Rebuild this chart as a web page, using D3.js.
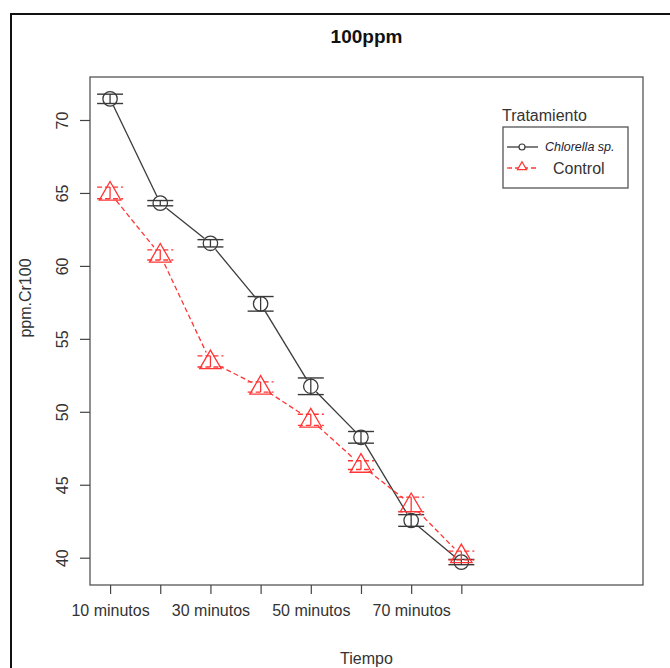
<!DOCTYPE html>
<html>
<head>
<meta charset="utf-8">
<script src="https://cdn.jsdelivr.net/npm/d3@7"></script>
<style>
  body { margin: 0; background: #fff; }
  svg { display: block; font-family: "Liberation Sans", Arial, sans-serif; }
</style>
</head>
<body>
<svg id="chart" width="670" height="668"></svg>
<script>
// datos
const categorias = ["10 minutos", "20 minutos", "30 minutos", "40 minutos",
                    "50 minutos", "60 minutos", "70 minutos", "80 minutos"]
const etiquetasX = ["10 minutos", "30 minutos", "50 minutos", "70 minutos"]
const ticksY = [40, 45, 50, 55, 60, 65, 70]

const chlorella    = [71.45, 64.3, 61.55, 57.4, 51.75, 48.25, 42.55, 39.7]
const chlorellaErr = [0.32, 0.18, 0.25, 0.5, 0.57, 0.4, 0.4, 0.18]
const control      = [65.0, 60.75, 53.45, 51.7, 49.45, 46.35, 43.65, 40.15]
const controlErr   = [0.4, 0.35, 0.38, 0.35, 0.38, 0.3, 0.5, 0.3]

const svg = d3.select("#chart")

// marco exterior de la figura
svg.append("path")
    .attr("d", "M11,670 L11,14 L672,14")
    .attr("fill", "none")
    .attr("stroke", "#111")
    .attr("stroke-width", 2)

const box = { left: 90, right: 643, top: 77, bottom: 585 }

const x = d3.scaleLinear().domain([0.6, 11.62]).range([box.left, box.right])
const y = d3.scaleLinear().domain([40, 70]).range([557.7, 120])

// caja del grafico
svg.append("rect")
    .attr("x", box.left).attr("y", box.top)
    .attr("width", box.right - box.left).attr("height", box.bottom - box.top)
    .attr("fill", "none").attr("stroke", "#555").attr("stroke-width", 1.3)

// eje Y (etiquetas giradas, como en R)
const ejeY = svg.append("g")
    .attr("transform", `translate(${box.left},0)`)
    .call(d3.axisLeft(y).tickValues(ticksY).tickSize(10).tickFormat(d3.format("d")))
ejeY.select(".domain").remove()
ejeY.selectAll("line").attr("stroke", "#444").attr("stroke-width", 1.2)
ejeY.selectAll("text")
    .attr("x", 0).attr("y", 0).attr("dy", 0)
    .attr("transform", "translate(-22,0) rotate(-90)")
    .attr("text-anchor", "middle")
    .attr("font-size", 16)
    .attr("fill", "#333")
    .attr("font-family", "Liberation Sans, Arial, sans-serif")

// eje X
const idx = d3.range(1, categorias.length + 1)
const ejeX = svg.append("g")
    .attr("transform", `translate(0,${box.bottom})`)
    .call(d3.axisBottom(x).tickValues(idx).tickSize(9)
        .tickFormat(i => etiquetasX.includes(categorias[i - 1]) ? categorias[i - 1] : ""))
ejeX.select(".domain").remove()
ejeX.selectAll("line").attr("stroke", "#444").attr("stroke-width", 1.2)
ejeX.selectAll("text")
    .attr("y", 31).attr("dy", 0)
    .attr("font-size", 16)
    .attr("fill", "#333")
    .attr("font-family", "Liberation Sans, Arial, sans-serif")

// titulos
svg.append("text")
    .attr("x", (box.left + box.right) / 2).attr("y", 43)
    .attr("text-anchor", "middle")
    .attr("font-size", 19).attr("font-weight", "bold").attr("fill", "#111")
    .text("100ppm")
svg.append("text")
    .attr("x", (box.left + box.right) / 2).attr("y", 664)
    .attr("text-anchor", "middle")
    .attr("font-size", 16).attr("fill", "#333")
    .text("Tiempo")
svg.append("text")
    .attr("transform", "translate(31,298) rotate(-90)")
    .attr("text-anchor", "middle")
    .attr("font-size", 16).attr("fill", "#333")
    .text("ppm.Cr100")

const triangulo = d3.symbol().type(d3.symbolTriangle).size(200)

function serie(valores, errores, opt) {
    const g = svg.append("g")
    const pts = valores.map((v, i) => [x(i + 1), y(v)])

    // lineas tipo "b": con hueco alrededor del simbolo
    for (let i = 0; i < pts.length - 1; i++) {
        const [x0, y0] = pts[i], [x1, y1] = pts[i + 1]
        const len = Math.hypot(x1 - x0, y1 - y0)
        if (len <= 2 * opt.gap) continue
        const ux = (x1 - x0) / len, uy = (y1 - y0) / len
        g.append("line")
            .attr("x1", x0 + ux * opt.gap).attr("y1", y0 + uy * opt.gap)
            .attr("x2", x1 - ux * opt.gap).attr("y2", y1 - uy * opt.gap)
            .attr("stroke", opt.color).attr("stroke-width", 1.3)
            .attr("stroke-dasharray", opt.dash)
    }

    // barras de error
    valores.forEach((v, i) => {
        const cx = x(i + 1)
        const lo = y(v - errores[i]), hi = y(v + errores[i])
        g.append("line")
            .attr("x1", cx).attr("x2", cx).attr("y1", lo).attr("y2", hi)
            .attr("stroke", opt.color).attr("stroke-width", 1.3)
        ;[lo, hi].forEach(yy => g.append("line")
            .attr("x1", cx - 13).attr("x2", cx + 13)
            .attr("y1", yy).attr("y2", yy)
            .attr("stroke", opt.color).attr("stroke-width", 1.4)
            .attr("stroke-dasharray", opt.capDash))
    })

    // simbolos
    pts.forEach(([px, py]) => {
        if (opt.shape === "circle") {
            g.append("circle").attr("cx", px).attr("cy", py).attr("r", 7.2)
                .attr("fill", "none").attr("stroke", opt.color).attr("stroke-width", 1.3)
        } else {
            g.append("path").attr("d", triangulo())
                .attr("transform", `translate(${px},${py + 1})`)
                .attr("fill", "none").attr("stroke", opt.color).attr("stroke-width", 1.3)
        }
    })
}

serie(chlorella, chlorellaErr, { color: "#3a3a3a", dash: null, capDash: null, shape: "circle", gap: 8 })
serie(control, controlErr, { color: "#ff3535", dash: "5 3", capDash: "5 3", shape: "triangle", gap: 10 })

// leyenda
const leg = svg.append("g")
leg.append("text").attr("x", 502).attr("y", 121)
    .attr("font-size", 16).attr("fill", "#333").text("Tratamiento")
leg.append("rect").attr("x", 503).attr("y", 127).attr("width", 125).attr("height", 61)
    .attr("fill", "#fff").attr("stroke", "#555").attr("stroke-width", 1.3)

leg.append("line").attr("x1", 507).attr("x2", 538).attr("y1", 147).attr("y2", 147)
    .attr("stroke", "#3a3a3a").attr("stroke-width", 1.3)
leg.append("circle").attr("cx", 522).attr("cy", 147).attr("r", 3)
    .attr("fill", "#fff").attr("stroke", "#3a3a3a").attr("stroke-width", 1.2)
leg.append("text").attr("x", 545).attr("y", 151)
    .attr("font-size", 12.5).attr("font-style", "italic").attr("fill", "#223")
    .text("Chlorella sp.")

leg.append("line").attr("x1", 507).attr("x2", 538).attr("y1", 168).attr("y2", 168)
    .attr("stroke", "#ff3535").attr("stroke-width", 1.3).attr("stroke-dasharray", "5 3")
leg.append("path").attr("d", d3.symbol().type(d3.symbolTriangle).size(36)())
    .attr("transform", "translate(522,167)")
    .attr("fill", "#fff").attr("stroke", "#ff3535").attr("stroke-width", 1.2)
leg.append("text").attr("x", 553).attr("y", 174)
    .attr("font-size", 16).attr("fill", "#333")
    .text("Control")
</script>
</body>
</html>
